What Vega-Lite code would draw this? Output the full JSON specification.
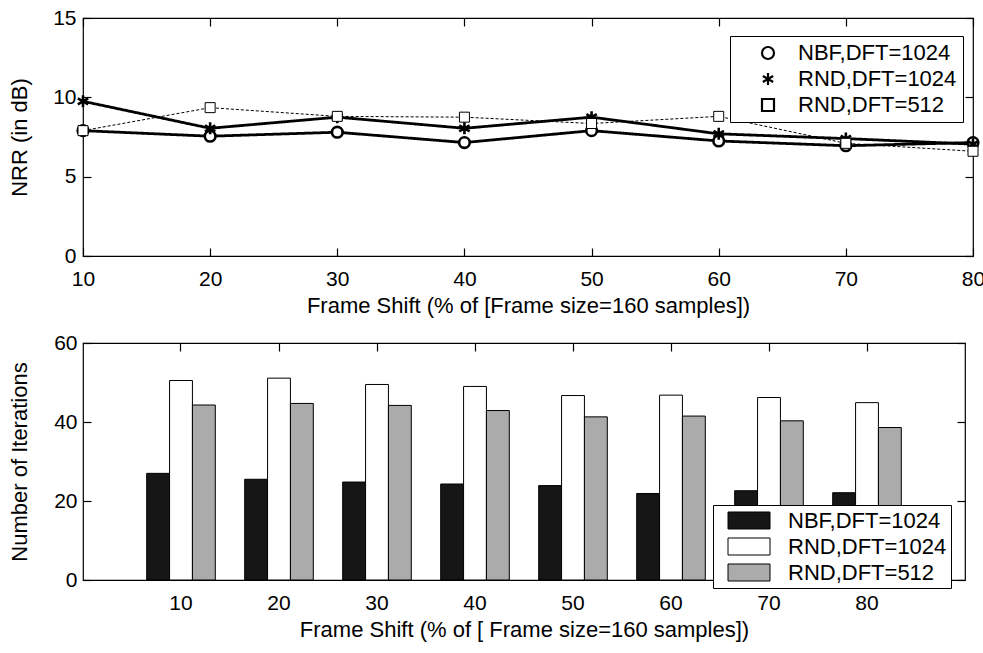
{
  "$schema": "https://vega.github.io/schema/vega-lite/v6.json",
  "padding": {"left": 7, "top": 6, "right": 5, "bottom": 5},
  "background": "white",
  "config": {
    "font": "Liberation Sans",
    "view": {"stroke": "black", "strokeWidth": 1.2},
    "axis": {"domain": false, "grid": false, "ticks": true, "tickColor": "black", "tickSize": -8, "tickWidth": 1.2,
      "labelFont": "Liberation Sans", "labelFontSize": 21, "labelColor": "black",
      "titleFont": "Liberation Sans", "titleFontSize": 22, "titleFontWeight": "normal", "titleColor": "black", "labelFlush": false},
    "legend": {"labelFont": "Liberation Sans", "labelFontSize": 22, "labelColor": "black"}
  },
  "spacing": -219,
  "resolve": {"legend": {"shape": "independent", "fill": "independent"}, "scale": {"shape": "independent", "fill": "independent"}},
  "vconcat": [
    {
      "width": 890,
      "height": 238,
      "data": {"values": [
        {"shift": 10, "series": "NBF,DFT=1024", "nrr": 7.9},
        {"shift": 20, "series": "NBF,DFT=1024", "nrr": 7.55},
        {"shift": 30, "series": "NBF,DFT=1024", "nrr": 7.8},
        {"shift": 40, "series": "NBF,DFT=1024", "nrr": 7.15},
        {"shift": 50, "series": "NBF,DFT=1024", "nrr": 7.9},
        {"shift": 60, "series": "NBF,DFT=1024", "nrr": 7.25},
        {"shift": 70, "series": "NBF,DFT=1024", "nrr": 6.95},
        {"shift": 80, "series": "NBF,DFT=1024", "nrr": 7.15},
        {"shift": 10, "series": "RND,DFT=1024", "nrr": 9.75},
        {"shift": 20, "series": "RND,DFT=1024", "nrr": 8.05},
        {"shift": 30, "series": "RND,DFT=1024", "nrr": 8.75},
        {"shift": 40, "series": "RND,DFT=1024", "nrr": 8.05},
        {"shift": 50, "series": "RND,DFT=1024", "nrr": 8.75},
        {"shift": 60, "series": "RND,DFT=1024", "nrr": 7.7},
        {"shift": 70, "series": "RND,DFT=1024", "nrr": 7.4},
        {"shift": 80, "series": "RND,DFT=1024", "nrr": 7.05},
        {"shift": 10, "series": "RND,DFT=512", "nrr": 7.9},
        {"shift": 20, "series": "RND,DFT=512", "nrr": 9.35},
        {"shift": 30, "series": "RND,DFT=512", "nrr": 8.8},
        {"shift": 40, "series": "RND,DFT=512", "nrr": 8.75},
        {"shift": 50, "series": "RND,DFT=512", "nrr": 8.35},
        {"shift": 60, "series": "RND,DFT=512", "nrr": 8.8},
        {"shift": 70, "series": "RND,DFT=512", "nrr": 7.1},
        {"shift": 80, "series": "RND,DFT=512", "nrr": 6.6}
      ]},
      "layer": [
        {
          "mark": {"type": "line", "color": "black"},
          "encoding": {
            "x": {"field": "shift", "type": "quantitative", "scale": {"domain": [10, 80], "nice": false, "zero": false},
              "axis": {"orient": "bottom", "values": [10, 20, 30, 40, 50, 60, 70, 80], "title": "Frame Shift (% of [Frame size=160 samples])", "labelPadding": 20, "titlePadding": 6}},
            "y": {"field": "nrr", "type": "quantitative", "scale": {"domain": [0, 15], "nice": false, "zero": false},
              "axis": {"orient": "left", "values": [0, 5, 10, 15], "title": "NRR (in dB)", "labelPadding": 15, "minExtent": 31, "maxExtent": 31, "titlePadding": 21}},
            "detail": {"field": "series"},
            "strokeWidth": {"condition": {"test": "datum.series === 'RND,DFT=512'", "value": 1}, "value": 2.8},
            "strokeDash": {"condition": {"test": "datum.series === 'RND,DFT=512'", "value": [3, 2]}, "value": [1, 0]}
          }
        },
        {
          "mark": {"type": "point", "fill": "white", "stroke": "black", "opacity": 1, "fillOpacity": 1},
          "encoding": {
            "x": {"field": "shift", "type": "quantitative", "scale": {"domain": [10, 80], "nice": false, "zero": false},
              "axis": {"orient": "top", "values": [10, 20, 30, 40, 50, 60, 70, 80], "labels": false, "title": null}},
            "y": {"field": "nrr", "type": "quantitative", "scale": {"domain": [0, 15], "nice": false, "zero": false},
              "axis": {"orient": "right", "values": [0, 5, 10, 15], "labels": false, "title": null}},
            "shape": {"field": "series", "type": "nominal",
              "scale": {"domain": ["NBF,DFT=1024", "RND,DFT=1024", "RND,DFT=512"], "range": ["circle", "M0,-1L0,1M-0.866,-0.5L0.866,0.5M-0.866,0.5L0.866,-0.5", "square"]},
              "legend": {"title": null, "orient": "none", "legendX": 647, "legendY": 18, "fillColor": "white", "strokeColor": "black",
                "padding": 6, "rowPadding": 4, "symbolOffset": 21, "labelOffset": 19, "symbolSize": 144, "symbolStrokeWidth": 2.2,
                "labelFontSize": 22, "labelLimit": 400,
                "encode": {"symbols": {"update": {
                  "fill": {"value": "white"},
                  "stroke": {"value": "black"}
                }}}}},
            "size": {"condition": [{"test": "datum.series === 'RND,DFT=1024'", "value": 144}, {"test": "datum.series === 'RND,DFT=512'", "value": 100}], "value": 113},
            "strokeWidth": {"condition": {"test": "datum.series === 'RND,DFT=512'", "value": 1}, "value": 2.6}
          }
        }
      ],
      "resolve": {"axis": {"x": "independent", "y": "independent"}}
    },
    {
      "width": 882,
      "height": 237,
      "data": {"values": [
        {"shift": 10, "method": "NBF,DFT=1024", "iters": 27.0},
        {"shift": 20, "method": "NBF,DFT=1024", "iters": 25.5},
        {"shift": 30, "method": "NBF,DFT=1024", "iters": 24.8},
        {"shift": 40, "method": "NBF,DFT=1024", "iters": 24.3},
        {"shift": 50, "method": "NBF,DFT=1024", "iters": 23.9},
        {"shift": 60, "method": "NBF,DFT=1024", "iters": 21.9},
        {"shift": 70, "method": "NBF,DFT=1024", "iters": 22.6},
        {"shift": 80, "method": "NBF,DFT=1024", "iters": 22.1},
        {"shift": 10, "method": "RND,DFT=1024", "iters": 50.5},
        {"shift": 20, "method": "RND,DFT=1024", "iters": 51.1},
        {"shift": 30, "method": "RND,DFT=1024", "iters": 49.5},
        {"shift": 40, "method": "RND,DFT=1024", "iters": 49.0},
        {"shift": 50, "method": "RND,DFT=1024", "iters": 46.7},
        {"shift": 60, "method": "RND,DFT=1024", "iters": 46.8},
        {"shift": 70, "method": "RND,DFT=1024", "iters": 46.2},
        {"shift": 80, "method": "RND,DFT=1024", "iters": 44.9},
        {"shift": 10, "method": "RND,DFT=512", "iters": 44.3},
        {"shift": 20, "method": "RND,DFT=512", "iters": 44.7},
        {"shift": 30, "method": "RND,DFT=512", "iters": 44.2},
        {"shift": 40, "method": "RND,DFT=512", "iters": 42.9},
        {"shift": 50, "method": "RND,DFT=512", "iters": 41.3},
        {"shift": 60, "method": "RND,DFT=512", "iters": 41.5},
        {"shift": 70, "method": "RND,DFT=512", "iters": 40.3},
        {"shift": 80, "method": "RND,DFT=512", "iters": 38.6}
      ]},
      "layer": [
        {
          "mark": {"type": "bar", "stroke": "black", "strokeWidth": 1},
          "encoding": {
            "x": {"field": "shift", "type": "ordinal",
              "scale": {"type": "band", "domain": [10, 20, 30, 40, 50, 60, 70, 80], "paddingInner": 0.3, "paddingOuter": 0.65},
              "axis": {"orient": "bottom", "labelAngle": 0, "title": "Frame Shift (% of [ Frame size=160 samples])", "labelPadding": 20, "titlePadding": 6}},
            "xOffset": {"field": "method", "type": "nominal", "scale": {"domain": ["NBF,DFT=1024", "RND,DFT=1024", "RND,DFT=512"], "paddingInner": 0, "paddingOuter": 0}},
            "y": {"field": "iters", "type": "quantitative", "scale": {"domain": [0, 60], "nice": false, "zero": true},
              "axis": {"orient": "left", "values": [0, 20, 40, 60], "title": "Number of Iterations", "labelPadding": 14, "minExtent": 31, "maxExtent": 31, "titlePadding": 21}},
            "fill": {"field": "method", "type": "nominal",
              "scale": {"domain": ["NBF,DFT=1024", "RND,DFT=1024", "RND,DFT=512"], "range": ["#161616", "#ffffff", "#ababab"]},
              "legend": {"title": null, "orient": "none", "legendX": 630, "legendY": 162, "fillColor": "white", "strokeColor": "black",
                "padding": 4.5, "rowPadding": 4, "symbolOffset": 20.5, "labelOffset": 28, "symbolType": "M-2,-0.81L2,-0.81L2,0.81L-2,0.81Z", "symbolSize": 441,
                "symbolStrokeColor": "black", "symbolStrokeWidth": 1, "labelFontSize": 22, "labelLimit": 400}}
          }
        },
        {
          "mark": {"type": "bar", "opacity": 0},
          "encoding": {
            "x": {"field": "shift", "type": "ordinal",
              "scale": {"type": "band", "domain": [10, 20, 30, 40, 50, 60, 70, 80], "paddingInner": 0.3, "paddingOuter": 0.65},
              "axis": {"orient": "top", "labels": false, "title": null}},
            "y": {"field": "iters", "type": "quantitative", "scale": {"domain": [0, 60], "nice": false, "zero": true},
              "axis": {"orient": "right", "values": [0, 20, 40, 60], "labels": false, "title": null}}
          }
        }
      ],
      "resolve": {"axis": {"x": "independent", "y": "independent"}}
    }
  ]
}
